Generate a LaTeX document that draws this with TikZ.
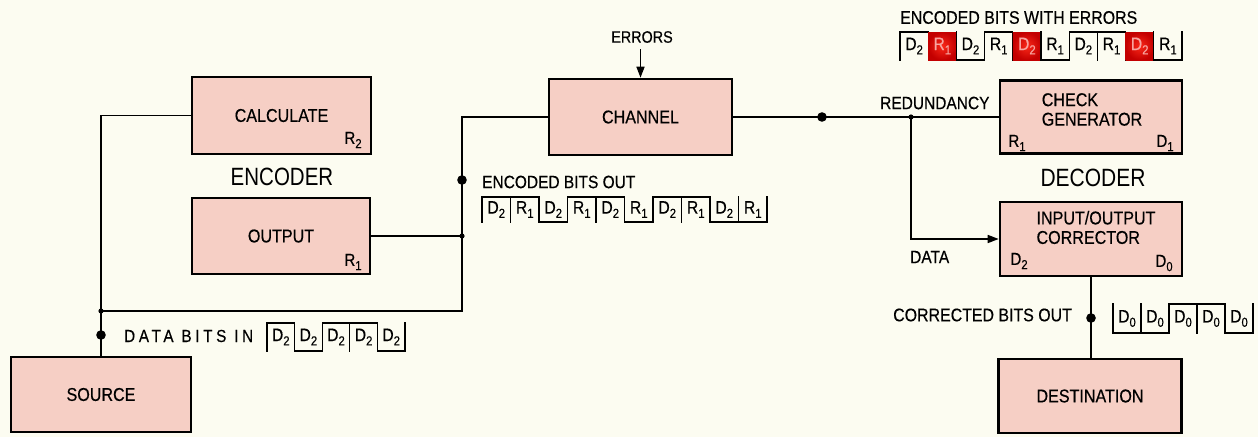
\documentclass[tikz,border=0pt]{standalone}
\usepackage{fontspec}
\setmainfont{Liberation Sans}[FakeStretch=0.87, FakeBold=0.4]
\newfontfamily\spacedfont{Liberation Sans}[FakeStretch=0.87, FakeBold=0.4, LetterSpace=21]
\newfontfamily\plainfont{Liberation Sans}
\usetikzlibrary{arrows.meta}
\definecolor{bgc}{RGB}{252,252,241}
\definecolor{boxc}{RGB}{246,207,197}
\definecolor{errin}{RGB}{250,40,25}
\definecolor{errout}{RGB}{195,0,0}
\definecolor{errtxt}{RGB}{248,165,160}
\newcommand\bitlab[2]{#1\raisebox{-0.45ex}{\fontsize{13}{13}\selectfont #2}}
% #1 name prefix, #2 x0, #3 top y, #4 bottom y, #5 cell width, #6 list level/letter/sub/red
\newcommand\drawwave[6]{%
  \foreach \wl/\wc/\ws/\wr [count=\i from 0] in {#6} {
    \pgfmathsetmacro\xa{#2+\i*#5}
    \pgfmathsetmacro\xb{#2+(\i+1)*#5}
    \pgfmathsetmacro\xm{#2+(\i+0.5)*#5}
    \pgfmathsetmacro\ym{((#3)+(#4))/2}
    \pgfmathsetmacro\yy{\wl*(#3)+(1-\wl)*(#4)}
    \draw[wave] (\xa,#3) -- (\xa,#4);
    \draw[wave] (\xb,#3) -- (\xb,#4);
    \ifnum\wr=1
      \shade[inner color=errin, outer color=errout] (\xa,#3) rectangle (\xb,#4);
      \node[celltxt, text=errtxt] (#1\i) at (\xm,\ym) {\bitlab{\wc}{\ws}};
    \else
      \draw[wave] (\xa,\yy) -- (\xb,\yy);
      \node[celltxt] (#1\i) at (\xm,\ym) {\bitlab{\wc}{\ws}};
    \fi
  }%
}
\begin{document}
\begin{tikzpicture}[x=1pt, y=-1pt,
  blk/.style={draw=black, line width=2.6pt, fill=boxc, inner sep=0pt,
    font=\fontsize{18.5}{21}\selectfont},
  lab/.style={inner sep=0pt, font=\fontsize{17.8}{21}\selectfont},
  sublab/.style={inner sep=0pt, font=\fontsize{17.5}{20}\selectfont},
  big/.style={inner sep=0pt, font=\plainfont\fontsize{25}{27}\selectfont},
  celltxt/.style={inner sep=0pt, font=\fontsize{18}{20}\selectfont},
  wave/.style={line width=1.3pt, line cap=rect},
  wire/.style={line width=1.6pt},
  tip/.style={-{Triangle[length=11pt,width=8pt]}}
]
\fill[bgc] (0,0) rectangle (1258,437);
\useasboundingbox (0,0) rectangle (1258,437);

% boxes
\node[blk, minimum width=179pt, minimum height=77pt] (calc) at (281.5,115.5) {CALCULATE};
\node[blk, minimum width=178pt, minimum height=76pt] (out) at (281,236) {OUTPUT};
\node[blk, minimum width=180pt, minimum height=75pt] (src) at (101,394.5) {SOURCE};
\node[blk, minimum width=183pt, minimum height=76pt] (chan) at (640.5,117) {CHANNEL};
\node[blk, minimum width=182pt, minimum height=73pt] (check) at (1091,117) {};
\node[blk, minimum width=182pt, minimum height=74pt] (corr) at (1091,239) {};
\node[blk, minimum width=183pt, minimum height=74pt] (dest) at (1090,396) {DESTINATION};

\node[lab, align=left, font=\fontsize{18.5}{19.5}\selectfont] (checktxt) at (1092,109.5) {CHECK\\GENERATOR};
\node[lab, align=left, font=\fontsize{18.5}{19.5}\selectfont] (corrtxt) at (1096,227.5) {INPUT/OUTPUT\\CORRECTOR};

% corner labels
\node[sublab] (r2) at (353,140) {\bitlab{R}{2}};
\node[sublab] (r1o) at (353,262) {\bitlab{R}{1}};
\node[sublab] (r1c) at (1017,143) {\bitlab{R}{1}};
\node[sublab] (d1c) at (1165,143) {\bitlab{D}{1}};
\node[sublab] (d2c) at (1019,261) {\bitlab{D}{2}};
\node[sublab] (d0c) at (1164,263) {\bitlab{D}{0}};

% section titles
\node[big] (enc) at (282,177) {\scalebox{0.82}[1]{ENCODER}};
\node[big] (dec) at (1093,178) {\scalebox{0.84}[1]{DECODER}};

% connectors (encoder side)
\coordinate (j1) at (101,311);
\coordinate (j2) at (462,311);
\draw[wire] (src.north) |- (calc.west);
\draw[wire] (j1) -- (j2) |- (chan.west);
\draw[wire] (out.east) -- (out.east -| j2) coordinate (j3);
\fill (j1) circle (2.6pt);
\fill (j3) circle (2.6pt);
\coordinate (d1) at (101,335);
\coordinate (d2) at (462,180);
\fill (d1) circle (4.8pt);
\fill (d2) circle (4.8pt);

% errors
\node[lab, font=\fontsize{16.5}{19}\selectfont] (err) at (642,37) {ERRORS};
\draw[wire, tip] ([yshift=-6pt]err.south -| chan.north) -- (chan.north);

% channel to decoder
\draw[wire] (chan.east) -- (check.west);
\coordinate (d3) at (822,117);
\coordinate (j4) at (911,117);
\fill (d3) circle (4.8pt);
\fill (j4) circle (2.6pt);
\draw[wire, tip] (j4) |- (corr.west);
\draw[wire] (corr.south) -- (corr.south |- dest.north);
\coordinate (d4) at (1091,318);
\fill (d4) circle (4.8pt);

% text labels
\node[lab, anchor=west, font=\spacedfont\fontsize{17.5}{21}\selectfont] (ldin) at (124,336) {DATA BITS IN};
\node[lab, anchor=west] (lencout) at (482,182) {ENCODED BITS OUT};
\node[lab, anchor=west, font=\fontsize{18.3}{21}\selectfont] (lwerr) at (900,17.5) {ENCODED BITS WITH ERRORS};
\node[lab, anchor=west] (lred) at (880,103) {REDUNDANCY};
\node[lab, anchor=west] (ldata) at (910,257) {DATA};
\node[lab, anchor=west, font=\fontsize{18.3}{21}\selectfont] (lcor) at (893,315) {CORRECTED BITS OUT};

% waveforms
\drawwave{din}{267}{323}{351}{27.6}{1/D/2/0,0/D/2/0,1/D/2/0,1/D/2/0,0/D/2/0}
\drawwave{eout}{482}{197}{222}{28.5}{1/D/2/0,1/R/1/0,0/D/2/0,1/R/1/0,1/D/2/0,0/R/1/0,1/D/2/0,1/R/1/0,0/D/2/0,0/R/1/0}
\drawwave{werr}{900}{32}{60}{28.2}{1/D/2/0,0/R/1/1,0/D/2/0,1/R/1/0,0/D/2/1,0/R/1/0,1/D/2/0,1/R/1/0,0/D/2/1,0/R/1/0}
\drawwave{cout}{1113}{304}{333}{28}{0/D/0/0,0/D/0/0,1/D/0/0,1/D/0/0,0/D/0/0}
\end{tikzpicture}
\end{document}
